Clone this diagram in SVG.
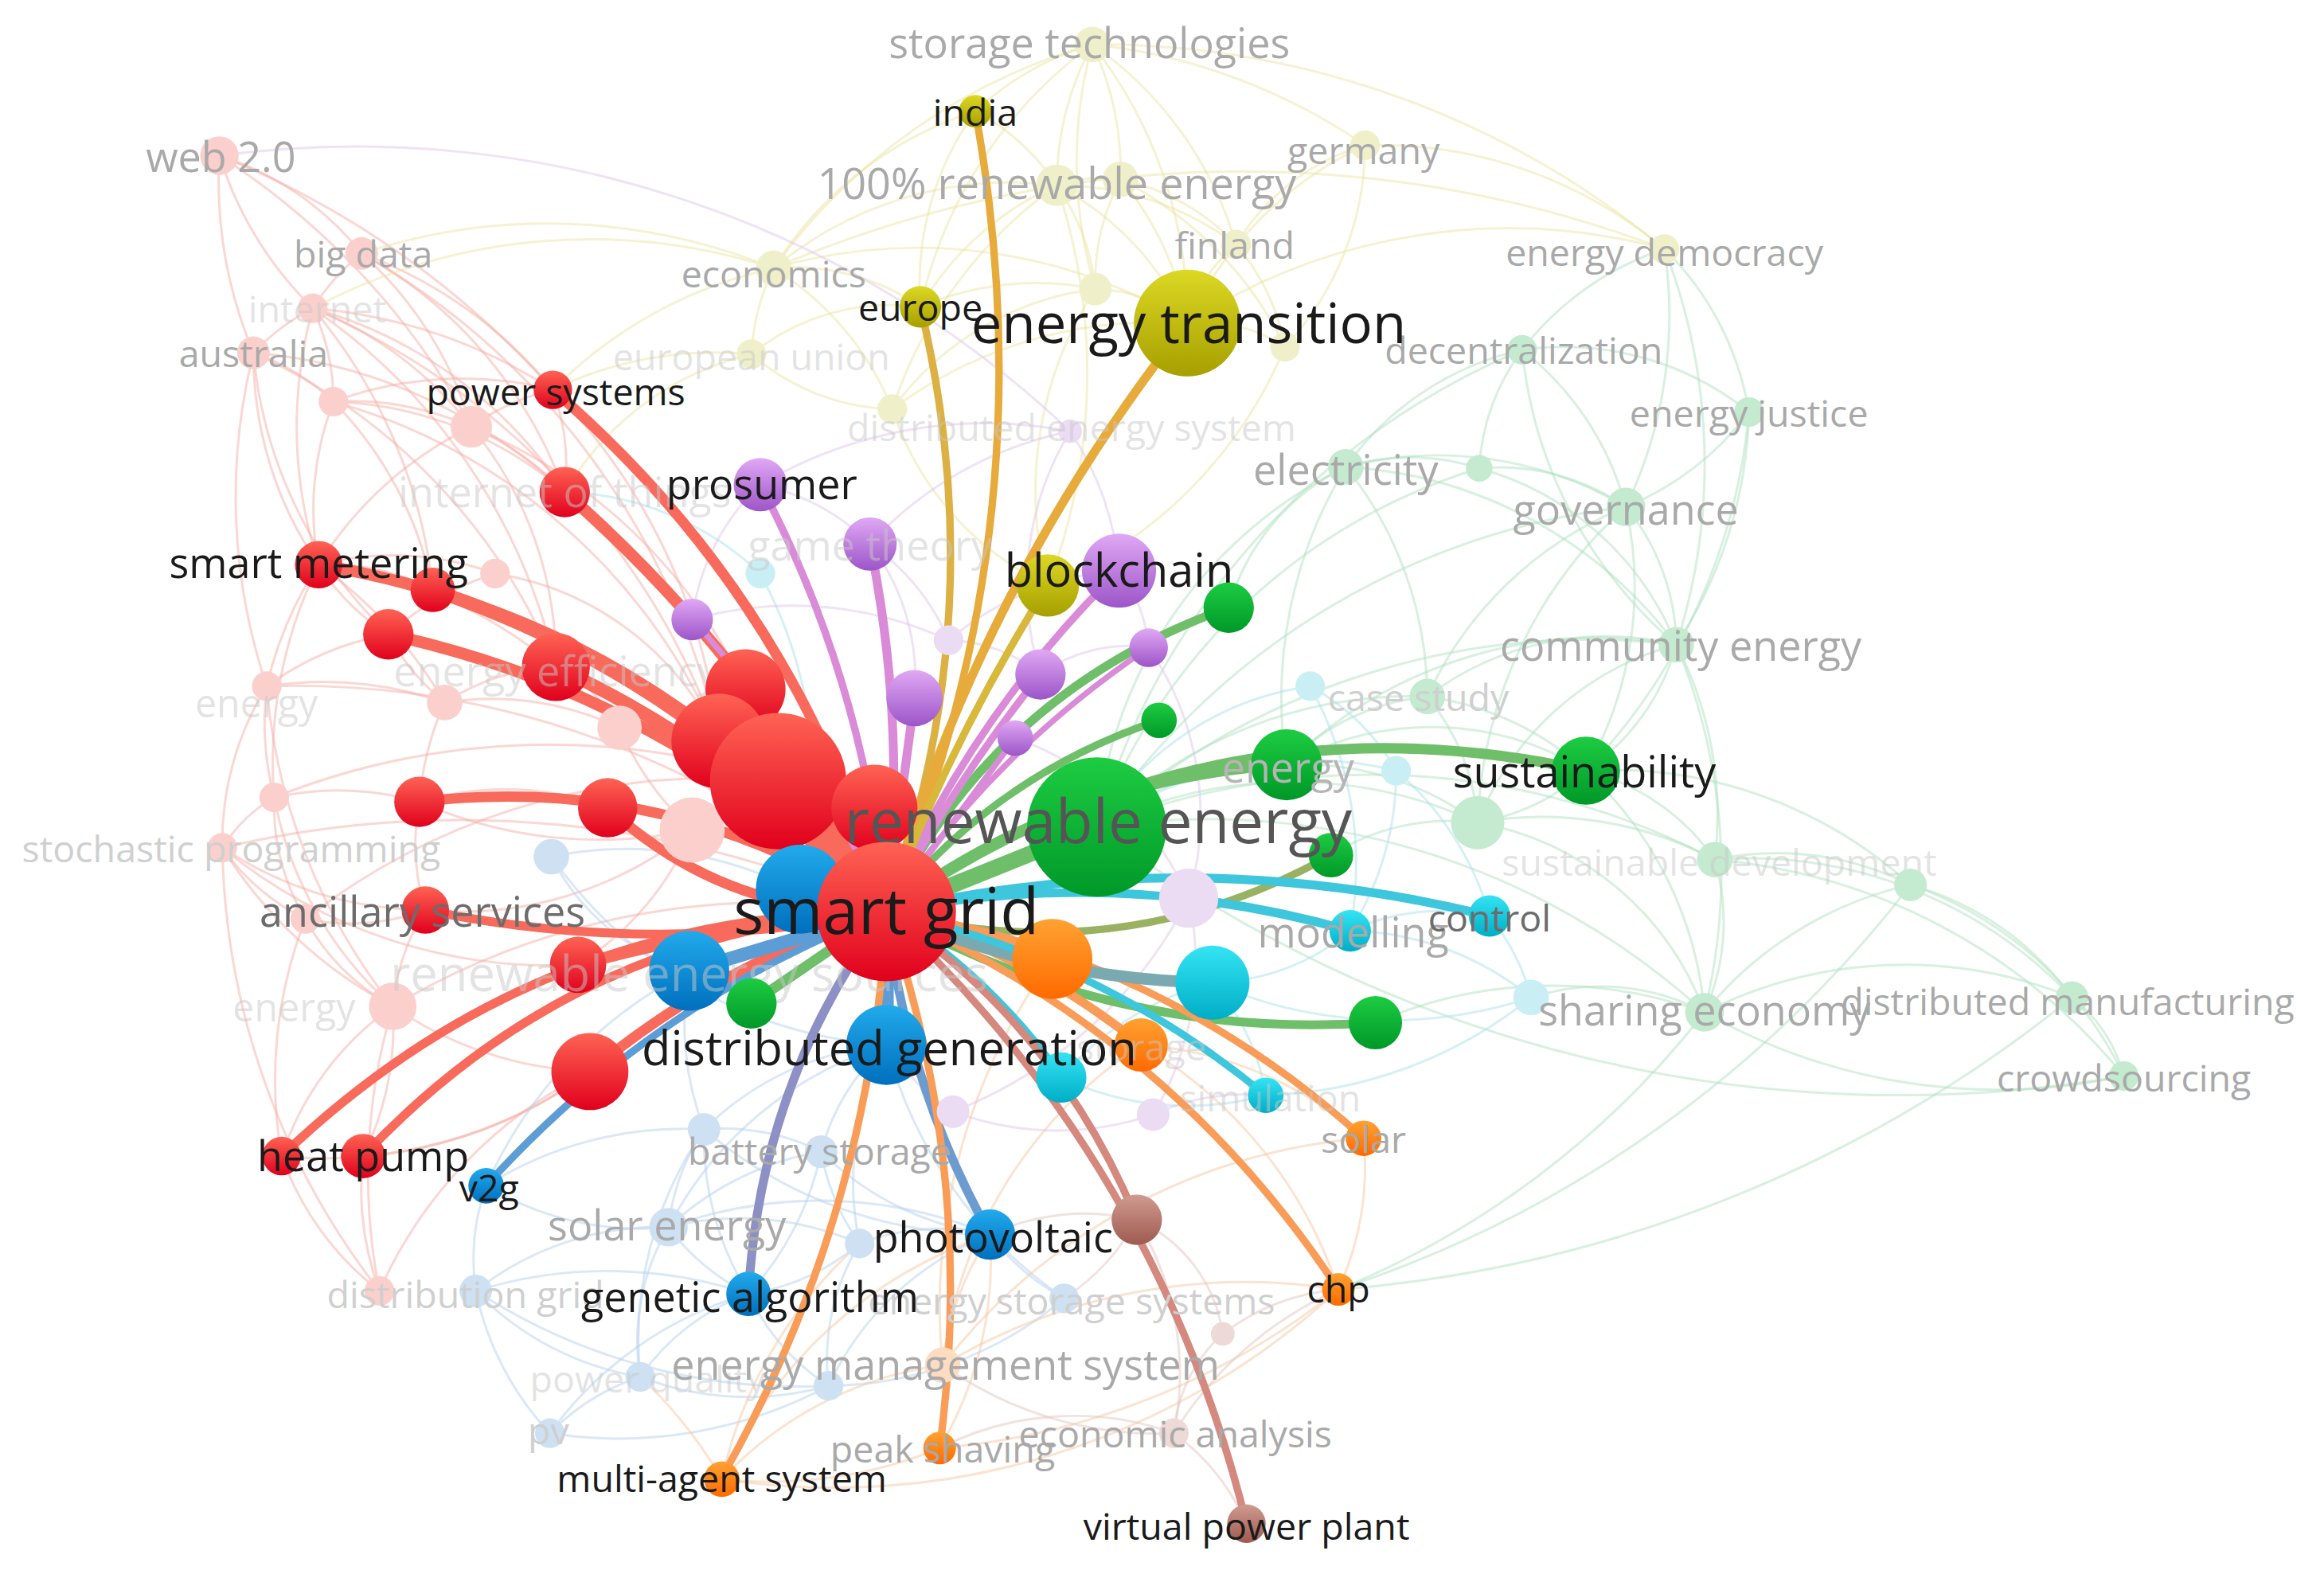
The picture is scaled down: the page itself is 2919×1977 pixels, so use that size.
<svg xmlns="http://www.w3.org/2000/svg" width="2919" height="1977" viewBox="0 0 2919 1977">
<defs>
<linearGradient id="gR" x1="0" y1="0" x2="0" y2="1"><stop offset="0" stop-color="#ff6354"/><stop offset="1" stop-color="#e0001c"/></linearGradient>
<linearGradient id="gB" x1="0" y1="0" x2="0" y2="1"><stop offset="0" stop-color="#22aaec"/><stop offset="1" stop-color="#006fbd"/></linearGradient>
<linearGradient id="gG" x1="0" y1="0" x2="0" y2="1"><stop offset="0" stop-color="#1dcc42"/><stop offset="1" stop-color="#009828"/></linearGradient>
<linearGradient id="gP" x1="0" y1="0" x2="0" y2="1"><stop offset="0" stop-color="#e0a8f4"/><stop offset="1" stop-color="#9c55c8"/></linearGradient>
<linearGradient id="gY" x1="0" y1="0" x2="0" y2="1"><stop offset="0" stop-color="#dcd824"/><stop offset="1" stop-color="#a69f00"/></linearGradient>
<linearGradient id="gO" x1="0" y1="0" x2="0" y2="1"><stop offset="0" stop-color="#ffa232"/><stop offset="1" stop-color="#ff6a00"/></linearGradient>
<linearGradient id="gC" x1="0" y1="0" x2="0" y2="1"><stop offset="0" stop-color="#34e4f4"/><stop offset="1" stop-color="#00adc6"/></linearGradient>
<linearGradient id="gN" x1="0" y1="0" x2="0" y2="1"><stop offset="0" stop-color="#d09a90"/><stop offset="1" stop-color="#9e5a50"/></linearGradient>
</defs>
<style>
text{font-family:"Open Sans","Noto Sans","Liberation Sans",sans-serif;text-anchor:middle;dominant-baseline:central}
.k{fill:#1a1a1a}.d{fill:#6c6c6c}.dd{fill:#555}.m{fill:#a9a9a9}.l{fill:#cfcfcf}.v{fill:#c8c8c8;fill-opacity:.5}
.fe path{fill:none;stroke-width:1.6;stroke-linecap:round}
.er{stroke:#f5b0a8;stroke-opacity:.5}.ey{stroke:#e9e29a;stroke-opacity:.45}.eg{stroke:#b0e1bf;stroke-opacity:.5}
.eb{stroke:#b6d2ee;stroke-opacity:.5}.eo{stroke:#f7c8a2;stroke-opacity:.5}.ec{stroke:#abe2eb;stroke-opacity:.5}
.ep{stroke:#dfc5ec;stroke-opacity:.5}.en{stroke:#e4c6c0;stroke-opacity:.5}
.be path{fill:none;stroke-linecap:round}
.br{stroke:#f86a5c}.bb{stroke:#5d9dd6}.bg{stroke:#6fbf6a}.bp{stroke:#d98bd8}.by{stroke:#e7ab3c}.bo{stroke:#f99c58}.bc{stroke:#3ec6dc}.bn{stroke:#d4887e}
.R{fill:url(#gR)}.B{fill:url(#gB)}.G{fill:url(#gG)}.P{fill:url(#gP)}.Y{fill:url(#gY)}.O{fill:url(#gO)}.C{fill:url(#gC)}.N{fill:url(#gN)}
.pr{fill:#fbd0cc}.py{fill:#eff0c9}.pg{fill:#c4eacf}.pb{fill:#cde1f3}.po{fill:#fddcc2}.pc{fill:#c9eff5}.pp{fill:#ebdbf3}.pn{fill:#eddad6}
</style>
<rect width="2919" height="1977" fill="#fff"/>
<g transform="scale(1.86161)">
<g id="connectors">
<g class="fe">
<g class="er">
<path d="M148 105 A200 200 0 0 1 244 171"/><path d="M148 105 A250 250 0 0 0 211 208"/><path d="M148 105 A300 300 0 0 0 171 238"/><path d="M148 105 A500 500 0 0 1 318 288"/><path d="M148 105 A600 600 0 0 1 373 263"/>
<path d="M244 171 A150 150 0 0 0 211 208"/><path d="M244 171 A250 250 0 0 1 318 288"/><path d="M244 171 A300 300 0 0 1 373 263"/><path d="M244 171 A300 300 0 0 1 381 332"/><path d="M244 171 A500 500 0 0 1 485 500"/>
<path d="M211 208 A150 150 0 0 0 171 238"/><path d="M211 208 A150 150 0 0 1 225 271"/><path d="M211 208 A250 250 0 0 1 318 288"/><path d="M211 208 A350 350 0 0 1 373 263"/><path d="M211 208 A300 300 0 0 1 381 332"/><path d="M211 208 A300 300 0 0 0 215 381"/><path d="M211 208 A400 400 0 0 1 375 450"/><path d="M211 208 A500 500 0 0 1 485 500"/><path d="M211 208 A350 350 0 0 1 292 398"/>
<path d="M171 238 A150 150 0 0 1 225 271"/><path d="M171 238 A250 250 0 0 0 215 381"/><path d="M171 238 A300 300 0 0 0 262 428"/><path d="M171 238 A400 400 0 0 1 375 450"/><path d="M171 238 A350 350 0 0 1 381 332"/><path d="M171 238 A400 400 0 0 0 180 463"/>
<path d="M225 271 A200 200 0 0 1 318 288"/><path d="M225 271 A250 250 0 0 1 373 263"/><path d="M225 271 A250 250 0 0 1 381 332"/><path d="M225 271 A200 200 0 0 0 215 381"/><path d="M225 271 A250 250 0 0 1 292 398"/><path d="M225 271 A400 400 0 0 1 485 500"/>
<path d="M318 288 A150 150 0 0 1 373 263"/><path d="M318 288 A200 200 0 0 1 381 332"/><path d="M318 288 A250 250 0 0 0 215 381"/><path d="M318 288 A250 250 0 0 1 375 450"/><path d="M318 288 A350 350 0 0 1 503 465"/>
<path d="M373 263 A150 150 0 0 1 381 332"/><path d="M373 263 A400 400 0 0 1 485 500"/>
<path d="M215 381 A150 150 0 0 1 292 398"/><path d="M215 381 A150 150 0 0 0 262 428"/><path d="M215 381 A250 250 0 0 0 180 463"/><path d="M215 381 A300 300 0 0 1 375 450"/><path d="M215 381 A300 300 0 0 1 300 474"/><path d="M215 381 A300 300 0 0 0 185 538"/><path d="M215 381 A200 200 0 0 1 334 387"/>
<path d="M180 463 A200 200 0 0 0 150 572"/><path d="M180 463 A200 200 0 0 1 262 428"/><path d="M180 463 A200 200 0 0 0 185 538"/><path d="M180 463 A250 250 0 0 1 300 474"/><path d="M180 463 A400 400 0 0 0 265 679"/>
<path d="M185 538 A100 100 0 0 0 150 572"/><path d="M185 538 A150 150 0 0 0 206 620"/><path d="M185 538 A200 200 0 0 1 283 541"/><path d="M185 538 A250 250 0 0 0 265 679"/>
<path d="M150 572 A150 150 0 0 0 206 620"/><path d="M150 572 A250 250 0 0 0 287 614"/><path d="M150 572 A350 350 0 0 0 390 651"/><path d="M150 572 A300 300 0 0 0 265 679"/><path d="M150 572 A500 500 0 0 0 256 871"/>
<path d="M206 620 A150 150 0 0 0 287 614"/><path d="M206 620 A150 150 0 0 0 265 679"/><path d="M206 620 A300 300 0 0 0 190 780"/>
<path d="M265 679 A200 200 0 0 0 190 780"/><path d="M265 679 A200 200 0 0 1 245 780"/><path d="M265 679 A250 250 0 0 0 398 723"/><path d="M265 679 A150 150 0 0 1 287 614"/><path d="M265 679 A400 400 0 0 0 256 871"/>
<path d="M256 871 A200 200 0 0 1 190 780"/><path d="M256 871 A300 300 0 0 1 398 723"/><path d="M256 871 A200 200 0 0 1 245 780"/>
<path d="M300 474 A200 200 0 0 0 283 541"/><path d="M300 474 A150 150 0 0 1 375 450"/><path d="M300 474 A200 200 0 0 1 418 491"/><path d="M300 474 A150 150 0 0 1 262 428"/>
<path d="M418 491 A150 150 0 0 1 485 500"/><path d="M418 491 A100 100 0 0 0 375 450"/><path d="M418 491 A200 200 0 0 0 467 560"/>
<path d="M467 560 A300 300 0 0 1 283 541"/><path d="M467 560 A150 150 0 0 0 410 545"/><path d="M467 560 A250 250 0 0 1 287 614"/><path d="M467 560 A200 200 0 0 1 390 651"/>
<path d="M283 541 A200 200 0 0 1 410 545"/><path d="M283 541 A150 150 0 0 0 287 614"/>
<path d="M398 723 A300 300 0 0 1 190 780"/><path d="M398 723 A300 300 0 0 1 245 780"/>
<path d="M150 572 A700 700 0 0 1 598 615"/><path d="M180 463 A600 600 0 0 1 598 615"/><path d="M185 538 A500 500 0 0 1 525 527"/><path d="M265 679 A500 500 0 0 1 598 615"/><path d="M206 620 A450 450 0 0 1 525 527"/>
<path d="M334 387 A200 200 0 0 1 485 500"/><path d="M334 387 A200 200 0 0 0 262 428"/>
</g>
<g class="ey">
<path d="M737 30 A200 200 0 0 0 658 75"/><path d="M737 30 A200 200 0 0 0 713 125"/><path d="M737 30 A200 200 0 0 1 756 121"/><path d="M737 30 A300 300 0 0 1 801 218"/><path d="M737 30 A300 300 0 0 0 739 195"/><path d="M737 30 A250 250 0 0 1 834 165"/><path d="M737 30 A300 300 0 0 0 621 207"/><path d="M737 30 A400 400 0 0 1 921 98"/><path d="M737 30 A400 400 0 0 0 522 181"/><path d="M737 30 A600 600 0 0 1 1123 168"/>
<path d="M658 75 A150 150 0 0 1 713 125"/><path d="M658 75 A200 200 0 0 0 621 207"/><path d="M658 75 A250 250 0 0 0 522 181"/>
<path d="M713 125 A100 100 0 0 1 756 121"/><path d="M713 125 A200 200 0 0 1 801 218"/><path d="M713 125 A200 200 0 0 0 621 207"/><path d="M713 125 A250 250 0 0 0 522 181"/><path d="M713 125 A150 150 0 0 1 739 195"/><path d="M713 125 A200 200 0 0 1 834 165"/><path d="M713 125 A300 300 0 0 0 602 276"/><path d="M713 125 A400 400 0 0 1 707 395"/>
<path d="M756 121 A200 200 0 0 1 801 218"/><path d="M756 121 A150 150 0 0 1 834 165"/><path d="M756 121 A150 150 0 0 0 739 195"/><path d="M756 121 A250 250 0 0 1 867 234"/>
<path d="M921 98 A250 250 0 0 0 801 218"/><path d="M921 98 A150 150 0 0 0 834 165"/><path d="M921 98 A200 200 0 0 1 867 234"/><path d="M921 98 A300 300 0 0 1 1123 168"/>
<path d="M834 165 A100 100 0 0 0 801 218"/><path d="M834 165 A150 150 0 0 1 867 234"/>
<path d="M739 195 A100 100 0 0 1 801 218"/><path d="M739 195 A200 200 0 0 0 621 207"/><path d="M739 195 A200 200 0 0 0 602 276"/><path d="M739 195 A250 250 0 0 0 707 395"/>
<path d="M867 234 A100 100 0 0 0 801 218"/><path d="M867 234 A300 300 0 0 1 707 395"/>
<path d="M522 181 A150 150 0 0 1 621 207"/><path d="M522 181 A150 150 0 0 0 507 239"/><path d="M522 181 A350 350 0 0 1 801 218"/><path d="M522 181 A200 200 0 0 1 602 276"/><path d="M522 181 A800 800 0 0 1 1123 168"/>
<path d="M507 239 A150 150 0 0 1 621 207"/><path d="M507 239 A150 150 0 0 0 602 276"/>
<path d="M602 276 A300 300 0 0 1 801 218"/><path d="M602 276 A200 200 0 0 0 707 395"/><path d="M1123 168 A400 400 0 0 0 801 218"/>
<path d="M522 181 A400 400 0 0 0 244 171"/><path d="M522 181 A400 400 0 0 0 211 208"/><path d="M522 181 A300 300 0 0 0 373 263"/><path d="M507 239 A250 250 0 0 0 373 263"/><path d="M507 239 A200 200 0 0 0 381 332"/>
</g>
<g class="eg">
<path d="M1027 236 A200 200 0 0 1 1180 278"/><path d="M1027 236 A200 200 0 0 1 1097 342"/><path d="M1027 236 A200 200 0 0 0 908 315"/><path d="M1027 236 A300 300 0 0 0 1131 435"/><path d="M1027 236 A150 150 0 0 0 998 316"/><path d="M1027 236 A500 500 0 0 0 740 558"/>
<path d="M1180 278 A200 200 0 0 1 1097 342"/><path d="M1180 278 A300 300 0 0 1 1131 435"/><path d="M1180 278 A200 200 0 0 0 1123 168"/><path d="M1180 278 A400 400 0 0 1 1070 520"/>
<path d="M1123 168 A200 200 0 0 0 1027 236"/><path d="M1123 168 A300 300 0 0 1 1097 342"/><path d="M1123 168 A400 400 0 0 1 1131 435"/>
<path d="M1097 342 A150 150 0 0 1 1131 435"/><path d="M1097 342 A250 250 0 0 0 908 315"/><path d="M1097 342 A150 150 0 0 0 998 316"/><path d="M1097 342 A500 500 0 0 0 740 558"/><path d="M1097 342 A300 300 0 0 0 997 555"/><path d="M1097 342 A250 250 0 0 1 1070 520"/><path d="M1097 342 A250 250 0 0 0 963 470"/>
<path d="M908 315 A150 150 0 0 1 998 316"/><path d="M908 315 A300 300 0 0 0 740 558"/><path d="M908 315 A300 300 0 0 1 1131 435"/><path d="M908 315 A300 300 0 0 0 868 516"/><path d="M908 315 A250 250 0 0 1 963 470"/><path d="M908 315 A150 150 0 0 0 829 410"/>
<path d="M998 316 A200 200 0 0 1 1131 435"/><path d="M998 316 A400 400 0 0 0 740 558"/>
<path d="M1131 435 A500 500 0 0 0 740 558"/><path d="M1131 435 A150 150 0 0 1 1070 520"/><path d="M1131 435 A200 200 0 0 0 997 555"/><path d="M1131 435 A200 200 0 0 0 963 470"/><path d="M1131 435 A250 250 0 0 1 1157 580"/><path d="M1131 435 A300 300 0 0 0 868 516"/><path d="M1131 435 A400 400 0 0 1 1150 683"/>
<path d="M963 470 A300 300 0 0 0 740 558"/><path d="M963 470 A150 150 0 0 1 997 555"/><path d="M963 470 A200 200 0 0 1 1070 520"/><path d="M963 470 A150 150 0 0 0 868 516"/>
<path d="M997 555 A300 300 0 0 0 740 558"/><path d="M997 555 A250 250 0 0 1 1157 580"/><path d="M997 555 A150 150 0 0 0 1070 520"/><path d="M997 555 A200 200 0 0 1 1150 683"/><path d="M997 555 A150 150 0 0 0 898 577"/>
<path d="M1070 520 A150 150 0 0 1 1157 580"/><path d="M1070 520 A300 300 0 0 1 1289 597"/><path d="M1070 520 A250 250 0 0 1 1150 683"/>
<path d="M1157 580 A200 200 0 0 1 1289 597"/><path d="M1157 580 A150 150 0 0 1 1150 683"/><path d="M1157 580 A500 500 0 0 0 740 558"/><path d="M1157 580 A300 300 0 0 1 1398 673"/><path d="M1157 580 A400 400 0 0 1 1433 726"/>
<path d="M1289 597 A200 200 0 0 1 1398 673"/><path d="M1289 597 A250 250 0 0 1 1433 726"/><path d="M1289 597 A250 250 0 0 0 1150 683"/>
<path d="M1150 683 A300 300 0 0 1 1398 673"/><path d="M1150 683 A400 400 0 0 0 1433 726"/><path d="M1150 683 A500 500 0 0 0 740 558"/><path d="M1150 683 A300 300 0 0 0 928 690"/>
<path d="M1398 673 A100 100 0 0 1 1433 726"/><path d="M868 516 A200 200 0 0 0 740 558"/><path d="M868 516 A200 200 0 0 1 997 555"/><path d="M868 516 A200 200 0 0 1 1070 520"/>
<path d="M740 558 A900 900 0 0 0 1433 726"/><path d="M1150 683 A600 600 0 0 1 903 870"/><path d="M1398 673 A900 900 0 0 1 903 870"/><path d="M1289 597 A800 800 0 0 1 903 870"/><path d="M1033 673 A150 150 0 0 1 1150 683"/>
</g>
<g class="eb">
<path d="M451 828 A200 200 0 0 0 321 871"/><path d="M451 828 A150 150 0 0 1 475 762"/><path d="M451 828 A150 150 0 0 0 505 873"/><path d="M451 828 A150 150 0 0 0 432 929"/><path d="M451 828 A250 250 0 0 1 598 705"/><path d="M451 828 A200 200 0 0 1 328 800"/><path d="M451 828 A200 200 0 0 1 554 777"/><path d="M451 828 A300 300 0 0 1 668 833"/><path d="M451 828 A200 200 0 0 1 580 839"/>
<path d="M321 871 A200 200 0 0 0 371 967"/><path d="M321 871 A200 200 0 0 0 432 929"/><path d="M321 871 A150 150 0 0 1 328 800"/><path d="M321 871 A300 300 0 0 1 505 873"/><path d="M321 871 A400 400 0 0 0 559 935"/>
<path d="M371 967 A150 150 0 0 1 432 929"/><path d="M371 967 A300 300 0 0 0 559 935"/><path d="M371 967 A250 250 0 0 1 505 873"/>
<path d="M432 929 A200 200 0 0 0 559 935"/><path d="M432 929 A150 150 0 0 1 505 873"/><path d="M432 929 A250 250 0 0 1 475 762"/>
<path d="M475 762 A150 150 0 0 1 554 777"/><path d="M475 762 A200 200 0 0 1 598 705"/><path d="M475 762 A300 300 0 0 0 668 833"/><path d="M475 762 A200 200 0 0 1 465 655"/><path d="M475 762 A200 200 0 0 0 505 873"/>
<path d="M554 777 A200 200 0 0 0 668 833"/><path d="M554 777 A150 150 0 0 1 598 705"/><path d="M554 777 A200 200 0 0 1 505 873"/><path d="M554 777 A150 150 0 0 0 580 839"/>
<path d="M580 839 A150 150 0 0 1 668 833"/><path d="M580 839 A150 150 0 0 1 505 873"/><path d="M580 839 A150 150 0 0 0 559 935"/><path d="M580 839 A200 200 0 0 1 598 705"/>
<path d="M559 935 A200 200 0 0 1 668 833"/><path d="M559 935 A250 250 0 0 0 718 876"/><path d="M559 935 A150 150 0 0 1 505 873"/>
<path d="M718 876 A150 150 0 0 1 668 833"/><path d="M718 876 A300 300 0 0 1 598 705"/>
<path d="M372 578 A150 150 0 0 0 465 655"/><path d="M372 578 A250 250 0 0 1 540 602"/><path d="M372 578 A300 300 0 0 0 598 705"/>
<path d="M328 800 A300 300 0 0 1 465 655"/><path d="M328 800 A250 250 0 0 1 475 762"/>
</g>
<g class="eo">
<path d="M636 921 A150 150 0 0 1 634 977"/><path d="M636 921 A250 250 0 0 0 487 998"/><path d="M636 921 A400 400 0 0 1 903 870"/><path d="M636 921 A200 200 0 0 1 668 833"/><path d="M636 921 A400 400 0 0 1 710 647"/><path d="M636 921 A300 300 0 0 1 770 705"/><path d="M636 921 A400 400 0 0 1 920 768"/>
<path d="M903 870 A200 200 0 0 0 920 768"/><path d="M903 870 A300 300 0 0 0 770 705"/><path d="M634 977 A300 300 0 0 1 487 998"/><path d="M487 998 A300 300 0 0 1 668 833"/><path d="M487 998 A300 300 0 0 0 432 929"/>
<path d="M634 977 A250 250 0 0 0 668 833"/><path d="M903 870 A500 500 0 0 1 634 977"/><path d="M487 998 A300 300 0 0 1 580 839"/><path d="M920 768 A250 250 0 0 0 770 705"/><path d="M487 998 A500 500 0 0 0 903 870"/>
</g>
<g class="ec">
<path d="M884 463 A150 150 0 0 1 942 520"/><path d="M884 463 A250 250 0 0 1 911 628"/><path d="M942 520 A200 200 0 0 1 911 628"/><path d="M942 520 A200 200 0 0 1 1005 618"/><path d="M1033 673 A150 150 0 0 0 1005 618"/><path d="M1033 673 A200 200 0 0 0 911 628"/><path d="M1033 673 A300 300 0 0 1 818 663"/>
<path d="M911 628 A150 150 0 0 1 1005 618"/><path d="M911 628 A150 150 0 0 1 818 663"/><path d="M818 663 A150 150 0 0 1 854 739"/><path d="M818 663 A200 200 0 0 0 716 727"/><path d="M716 727 A200 200 0 0 0 854 739"/><path d="M854 739 A300 300 0 0 0 1033 673"/>
<path d="M513 387 A300 300 0 0 1 540 602"/><path d="M884 463 A200 200 0 0 0 740 558"/><path d="M942 520 A250 250 0 0 0 740 558"/><path d="M513 387 A200 200 0 0 0 381 332"/>
</g>
<g class="ep">
<path d="M148 105 A700 700 0 0 1 722 291"/>
<path d="M722 291 A300 300 0 0 0 513 327"/><path d="M722 291 A250 250 0 0 0 587 367"/><path d="M722 291 A200 200 0 0 1 755 385"/><path d="M722 291 A200 200 0 0 0 702 455"/>
<path d="M640 432 A150 150 0 0 0 587 367"/><path d="M640 432 A200 200 0 0 1 755 385"/><path d="M640 432 A100 100 0 0 1 702 455"/><path d="M640 432 A250 250 0 0 0 467 418"/>
<path d="M802 606 A200 200 0 0 0 685 498"/><path d="M802 606 A200 200 0 0 0 775 437"/><path d="M802 606 A200 200 0 0 1 778 752"/><path d="M643 750 A200 200 0 0 0 778 752"/><path d="M643 750 A300 300 0 0 0 802 606"/><path d="M643 750 A150 150 0 0 1 598 705"/><path d="M778 752 A150 150 0 0 1 854 739"/>
<path d="M513 327 A150 150 0 0 0 467 418"/><path d="M513 327 A150 150 0 0 1 587 367"/><path d="M587 367 A150 150 0 0 1 617 471"/><path d="M702 455 A100 100 0 0 1 775 437"/><path d="M755 385 A100 100 0 0 1 775 437"/>
</g>
<g class="en">
<path d="M792 967 A150 150 0 0 1 841 1028"/><path d="M792 967 A200 200 0 0 0 767 823"/><path d="M792 967 A250 250 0 0 1 903 870"/><path d="M792 967 A200 200 0 0 0 634 977"/><path d="M792 967 A100 100 0 0 1 825 900"/>
<path d="M825 900 A100 100 0 0 0 767 823"/><path d="M825 900 A150 150 0 0 1 903 870"/><path d="M792 967 A250 250 0 0 1 636 921"/><path d="M767 823 A150 150 0 0 0 668 833"/><path d="M767 823 A150 150 0 0 1 718 876"/>
</g>
</g>
<g class="be">
<path class="br" stroke-width="7" d="M598 615 Q538 405 373 263"/>
<path class="br" stroke-width="8" d="M598 615 Q518 452 381 332"/>
<path class="br" stroke-width="8" d="M598 615 Q453 421 215 381"/>
<path class="br" stroke-width="9" d="M598 615 Q478 461 292 398"/>
<path class="br" stroke-width="8" d="M598 615 Q458 471 262 428"/>
<path class="br" stroke-width="9" d="M598 615 Q503 510 375 450"/>
<path class="br" stroke-width="9" d="M598 615 L503 465"/>
<path class="br" stroke-width="9" d="M598 615 L485 500"/>
<path class="br" stroke-width="10" d="M598 615 L525 527"/>
<path class="br" stroke-width="9" d="M598 615 L590 545"/>
<path class="br" stroke-width="7" d="M598 615 Q454 521 283 541"/>
<path class="br" stroke-width="7" d="M598 615 Q490 618 410 545"/>
<path class="br" stroke-width="6" d="M598 615 Q442 646 287 614"/>
<path class="br" stroke-width="8" d="M598 615 Q492 623 390 651"/>
<path class="br" stroke-width="7" d="M598 615 Q487 649 398 723"/>
<path class="br" stroke-width="6" d="M598 615 Q361 616 190 780"/>
<path class="br" stroke-width="6" d="M598 615 Q389 627 245 780"/>
<path class="bb" stroke-width="9" d="M598 615 L540 602"/>
<path class="bb" stroke-width="9" d="M598 615 L465 655"/>
<path class="bb" stroke-width="10" d="M598 615 L598 705"/>
<path class="bb" stroke-width="5" d="M598 615 Q441 675 328 800"/>
<path stroke="#8d90c4" stroke-width="6" d="M598 615 Q513 730 505 873"/>
<path stroke="#6c9bd0" stroke-width="6" d="M598 615 Q611 731 668 833"/>
<path class="bg" stroke-width="11" d="M598 615 L740 558"/>
<path class="bg" stroke-width="7" d="M598 615 L507 677"/>
<path class="bg" stroke-width="6" d="M598 615 Q672 466 829 410"/>
<path class="bg" stroke-width="5" d="M598 615 Q671 523 782 486"/>
<path class="bg" stroke-width="7" d="M598 615 Q718 525 868 516"/>
<path class="bg" stroke-width="7" d="M598 615 Q813 464 1070 520"/>
<path stroke="#99b262" stroke-width="5" d="M598 615 Q756 656 898 577"/>
<path class="bg" stroke-width="6" d="M598 615 Q752 702 928 690"/>
<path class="bp" stroke-width="5" d="M598 615 Q584 462 513 327"/>
<path class="bp" stroke-width="6" d="M598 615 Q612 490 587 367"/>
<path class="bp" stroke-width="4" d="M598 615 Q548 506 467 418"/>
<path class="bp" stroke-width="6" d="M598 615 L617 471"/>
<path class="bp" stroke-width="5" d="M598 615 Q654 484 755 385"/>
<path class="bp" stroke-width="5" d="M598 615 Q642 530 702 455"/>
<path class="bp" stroke-width="4" d="M598 615 Q669 508 775 437"/>
<path class="bp" stroke-width="4" d="M598 615 L685 498"/>
<path class="by" stroke-width="5" d="M598 615 Q709 354 658 75"/>
<path stroke="#dcb042" stroke-width="5" d="M598 615 Q671 414 621 207"/>
<path class="by" stroke-width="6" d="M598 615 Q660 396 801 218"/>
<path stroke="#d8b83a" stroke-width="5" d="M598 615 Q641 500 707 395"/>
<path class="bo" stroke-width="9" d="M598 615 L710 647"/>
<path class="bo" stroke-width="6" d="M598 615 Q693 643 770 705"/>
<path class="bo" stroke-width="5" d="M598 615 Q782 643 920 768"/>
<path class="bo" stroke-width="5" d="M598 615 Q789 697 903 870"/>
<path class="bo" stroke-width="5" d="M598 615 Q659 792 634 977"/>
<path class="bo" stroke-width="5" d="M598 615 Q588 819 487 997"/>
<path stroke="#7aaab0" stroke-width="8" d="M598 615 Q703 661 818 663"/>
<path class="bc" stroke-width="6" d="M598 615 Q756 584 911 628"/>
<path class="bc" stroke-width="6" d="M598 615 Q802 568 1005 618"/>
<path class="bc" stroke-width="6" d="M598 615 Q668 659 716 727"/>
<path class="bc" stroke-width="5" d="M598 615 Q741 646 854 739"/>
<path class="bn" stroke-width="5" d="M598 615 Q714 694 767 823"/>
<path class="bn" stroke-width="5" d="M598 615 Q781 785 841 1028"/>
</g>
</g>
<g id="nodes">
<g id="n-web-2-0"><circle class="pr" cx="148" cy="105" r="13"/><text class="m" x="149" y="105" font-size="28">web 2.0</text></g>
<g id="n-big-data"><circle class="pr" cx="244" cy="171" r="11"/><text class="m" x="245" y="171" font-size="25">big data</text></g>
<g id="n-internet"><circle class="pr" cx="211" cy="208" r="10"/><text class="v" x="214" y="208" font-size="25">internet</text></g>
<g id="n-australia"><circle class="pr" cx="171" cy="238" r="11"/><text class="m" x="171" y="238" font-size="25">australia</text></g>
<g id="n-pr1"><circle class="pr" cx="225" cy="271" r="10"/></g>
<g id="n-pr2"><circle class="pr" cx="318" cy="288" r="14"/></g>
<g id="n-pr3"><circle class="pr" cx="334" cy="387" r="10"/></g>
<g id="n-energy-a"><circle class="pr" cx="180" cy="463" r="10"/><text class="v" x="173" y="474" font-size="26">energy</text></g>
<g id="n-pr4"><circle class="pr" cx="300" cy="474" r="12"/></g>
<g id="n-pr5"><circle class="pr" cx="418" cy="491" r="15"/></g>
<g id="n-pr6"><circle class="pr" cx="185" cy="538" r="10"/></g>
<g id="n-stochastic-programming"><circle class="pr" cx="150" cy="572" r="10"/><text class="l" x="156" y="572" font-size="25">stochastic programming</text></g>
<g id="n-pr7"><circle class="pr" cx="206" cy="620" r="10"/></g>
<g id="n-energy-b"><circle class="pr" cx="265" cy="679" r="16"/><text class="v" x="157" y="679" font-size="26" style="text-anchor:start">energy</text></g>
<g id="n-pr8"><circle class="pr" cx="256" cy="871" r="10"/></g>
<g id="n-pr9"><circle class="pr" cx="467" cy="560" r="22"/></g>
<g id="n-storage-technologies"><circle class="py" cx="737" cy="30" r="12"/><text class="m" x="735" y="28" font-size="28">storage technologies</text></g>
<g id="n-100-renewable-energy"><circle class="py" cx="713" cy="125" r="14"/><circle class="py" cx="756" cy="121" r="12"/><text class="m" x="713" y="123" font-size="29">100% renewable energy</text></g>
<g id="n-germany"><circle class="py" cx="921" cy="98" r="10"/><text class="m" x="920" y="101" font-size="25">germany</text></g>
<g id="n-finland"><circle class="py" cx="834" cy="165" r="10"/><text class="m" x="833" y="165" font-size="25">finland</text></g>
<g id="n-py1"><circle class="py" cx="739" cy="195" r="11"/></g>
<g id="n-py2"><circle class="py" cx="867" cy="234" r="10"/></g>
<g id="n-economics"><circle class="py" cx="522" cy="181" r="12"/><text class="m" x="522" y="184" font-size="25">economics</text></g>
<g id="n-european-union"><circle class="py" cx="507" cy="239" r="10"/><text class="v" x="507" y="240" font-size="25">european union</text></g>
<g id="n-py3"><circle class="py" cx="602" cy="276" r="10"/></g>
<g id="n-energy-democracy"><circle class="py" cx="1123" cy="168" r="10"/><text class="m" x="1123" y="170" font-size="25">energy democracy</text></g>
<g id="n-distributed-energy-system"><circle class="pp" cx="722" cy="291" r="8"/><text class="v" x="723" y="288" font-size="25">distributed energy system</text></g>
<g id="n-pp1"><circle class="pp" cx="640" cy="432" r="10"/></g>
<g id="n-pp2"><circle class="pp" cx="802" cy="606" r="20"/></g>
<g id="n-pp3"><circle class="pp" cx="643" cy="750" r="11"/></g>
<g id="n-pp4"><circle class="pp" cx="778" cy="752" r="11"/></g>
<g id="n-electricity"><circle class="pg" cx="908" cy="315" r="12"/><text class="m" x="908" y="316" font-size="28">electricity</text></g>
<g id="n-pg1"><circle class="pg" cx="998" cy="316" r="9"/></g>
<g id="n-decentralization"><circle class="pg" cx="1027" cy="236" r="10"/><text class="m" x="1028" y="236" font-size="25">decentralization</text></g>
<g id="n-energy-justice"><circle class="pg" cx="1180" cy="278" r="10"/><text class="m" x="1180" y="278" font-size="25">energy justice</text></g>
<g id="n-governance"><circle class="pg" cx="1097" cy="342" r="13"/><text class="m" x="1097" y="343" font-size="28">governance</text></g>
<g id="n-community-energy"><circle class="pg" cx="1131" cy="435" r="12"/><text class="m" x="1134" y="435" font-size="28">community energy</text></g>
<g id="n-case-study"><circle class="pc" cx="884" cy="463" r="10"/><circle class="pg" cx="963" cy="470" r="12"/><text class="l" x="957" y="470" font-size="25">case study</text></g>
<g id="n-pc1"><circle class="pc" cx="942" cy="520" r="10"/></g>
<g id="n-pc2"><circle class="pc" cx="513" cy="387" r="10"/></g>
<g id="n-pc3"><circle class="pc" cx="1033" cy="673" r="12"/></g>
<g id="n-pg2"><circle class="pg" cx="997" cy="555" r="18"/></g>
<g id="n-sustainable-development"><circle class="pg" cx="1157" cy="580" r="12"/><text class="v" x="1160" y="581" font-size="25">sustainable development</text></g>
<g id="n-pg3"><circle class="pg" cx="1289" cy="597" r="11"/></g>
<g id="n-sharing-economy"><circle class="pg" cx="1150" cy="683" r="13"/><text class="m" x="1150" y="681" font-size="28">sharing economy</text></g>
<g id="n-distributed-manufacturing"><circle class="pg" cx="1398" cy="673" r="11"/><text class="m" x="1395" y="675" font-size="25">distributed manufacturing</text></g>
<g id="n-crowdsourcing"><circle class="pg" cx="1433" cy="726" r="10"/><text class="m" x="1433" y="727" font-size="25">crowdsourcing</text></g>
<g id="n-pb1"><circle class="pb" cx="372" cy="578" r="12"/></g>
<g id="n-battery-storage"><circle class="pb" cx="475" cy="762" r="11"/><circle class="pb" cx="554" cy="777" r="11"/><text class="m" x="553" y="776" font-size="25">battery storage</text></g>
<g id="n-solar-energy"><circle class="pb" cx="451" cy="828" r="13"/><text class="m" x="450" y="826" font-size="28">solar energy</text></g>
<g id="n-distribution-grid"><circle class="pb" cx="321" cy="871" r="11"/><text class="l" x="314" y="873" font-size="25">distribution grid</text></g>
<g id="n-pb2"><circle class="pb" cx="580" cy="839" r="10"/></g>
<g id="n-power-quality"><circle class="pb" cx="432" cy="929" r="10"/><text class="v" x="437" y="930" font-size="25">power quality</text></g>
<g id="n-pv"><circle class="pb" cx="371" cy="967" r="10"/><text class="l" x="370" y="965" font-size="25">pv</text></g>
<g id="n-pb3"><circle class="pb" cx="559" cy="935" r="10"/></g>
<g id="n-energy-storage-systems"><circle class="pb" cx="718" cy="876" r="10"/><text class="l" x="723" y="877" font-size="25">energy storage systems</text></g>
<g id="n-energy-management-system"><circle class="po" cx="636" cy="921" r="12"/><text class="m" x="638" y="920" font-size="28">energy management system</text></g>
<g id="n-pn1"><circle class="pn" cx="825" cy="900" r="8"/></g>
<g id="n-economic-analysis"><circle class="pn" cx="792" cy="967" r="10"/><text class="m" x="793" y="967" font-size="25">economic analysis</text></g>

<g id="n-power-systems"><circle class="R" cx="373" cy="263" r="13"/><text class="k" x="375" y="264" font-size="25">power systems</text></g>
<g id="n-internet-of-things"><circle class="R" cx="381" cy="332" r="17"/><text class="v" x="381" y="331" font-size="28">internet of things</text></g>
<g id="n-r2"><circle class="R" cx="292" cy="398" r="15"/></g>
<g id="n-smart-metering"><circle class="R" cx="215" cy="381" r="16"/><text class="k" x="215" y="379" font-size="28">smart metering</text></g>
<g id="n-r3"><circle class="R" cx="262" cy="428" r="17"/></g>
<g id="n-energy-efficiency"><circle class="R" cx="375" cy="450" r="23"/><text class="v" x="375" y="452" font-size="28">energy efficiency</text></g>
<g id="n-r11"><circle class="R" cx="283" cy="541" r="17"/></g>
<g id="n-r12"><circle class="R" cx="410" cy="545" r="20"/></g>
<g id="n-ancillary-services"><circle class="R" cx="287" cy="614" r="16"/><text class="d" x="285" y="614" font-size="28">ancillary services</text></g>
<g id="n-r14"><circle class="R" cx="390" cy="651" r="19"/></g>
<g id="n-r15"><circle class="R" cx="398" cy="723" r="26"/></g>
<g id="n-hp1"><circle class="R" cx="190" cy="780" r="13"/></g>
<g id="n-heat-pump"><circle class="R" cx="245" cy="780" r="15"/><text class="k" x="245" y="779" font-size="28">heat pump</text></g>
<g id="n-c3"><circle class="R" cx="503" cy="465" r="27"/></g>
<g id="n-c1"><circle class="R" cx="485" cy="500" r="32"/></g>
<g id="n-c2"><circle class="R" cx="525" cy="527" r="46"/></g>
<g id="n-c4"><circle class="R" cx="590" cy="545" r="29"/></g>
<g id="n-p3"><circle class="P" cx="467" cy="418" r="14"/></g>
<g id="n-game-theory"><circle class="P" cx="587" cy="367" r="18"/><text class="v" x="587" y="367" font-size="28">game theory</text></g>
<g id="n-prosumer"><circle class="P" cx="513" cy="327" r="18"/><text class="k" x="514" y="326" font-size="28">prosumer</text></g>
<g id="n-p4"><circle class="P" cx="617" cy="471" r="19"/></g>
<g id="n-p5"><circle class="P" cx="702" cy="455" r="17"/></g>
<g id="n-p6"><circle class="P" cx="775" cy="437" r="13"/></g>
<g id="n-p7"><circle class="P" cx="685" cy="498" r="12"/></g>
<g id="n-y-blockchain"><circle class="Y" cx="707" cy="395" r="21"/></g>
<g id="n-blockchain"><circle class="P" cx="755" cy="385" r="25"/><text class="k" x="755" y="384" font-size="31">blockchain</text></g>
<g id="n-india"><circle class="Y" cx="658" cy="75" r="11"/><text class="k" x="658" y="75" font-size="25">india</text></g>
<g id="n-energy-transition"><circle class="Y" cx="801" cy="218" r="36"/><text class="k" x="802" y="217" font-size="37">energy transition</text></g>
<g id="n-europe"><circle class="Y" cx="621" cy="207" r="14"/><text class="k" x="621" y="207" font-size="25">europe</text></g>
<g id="n-g7"><circle class="G" cx="829" cy="410" r="17"/></g>
<g id="n-g8"><circle class="G" cx="782" cy="486" r="12"/></g>
<g id="n-energy"><circle class="G" cx="868" cy="516" r="24"/><text fill="#b5b5b5" x="869" y="517" font-size="28">energy</text></g>
<g id="n-sustainability"><circle class="G" cx="1070" cy="520" r="23"/><text class="k" x="1069" y="520" font-size="29">sustainability</text></g>
<g id="n-g5"><circle class="G" cx="898" cy="577" r="15"/></g>
<g id="n-g6"><circle class="G" cx="928" cy="690" r="18"/></g>
<g id="n-v2g"><circle class="B" cx="328" cy="800" r="12"/><text class="k" x="330" y="801" font-size="25">v2g</text></g>
<g id="n-genetic-algorithm"><circle class="B" cx="505" cy="873" r="15"/><text class="k" x="506" y="874" font-size="28">genetic algorithm</text></g>
<g id="n-photovoltaic"><circle class="B" cx="668" cy="833" r="17"/><text class="k" x="670" y="834" font-size="28">photovoltaic</text></g>
<g id="n-b6"><circle class="B" cx="540" cy="600" r="30"/></g>
<g id="n-renewable-energy-sources"><circle class="B" cx="465" cy="655" r="27"/><text class="v" x="465" y="656" font-size="33">renewable energy sources</text></g>
<g id="n-g9"><circle class="G" cx="507" cy="677" r="17"/></g>
<g id="n-o1"><circle class="O" cx="710" cy="647" r="27"/></g>
<g id="n-storage"><circle class="O" cx="770" cy="705" r="18"/><text class="v" x="770" y="706" font-size="25">storage</text></g>
<g id="n-solar"><circle class="O" cx="920" cy="768" r="12"/><text class="m" x="920" y="768" font-size="25">solar</text></g>
<g id="n-chp"><circle class="O" cx="903" cy="870" r="11"/><text class="k" x="903" y="869" font-size="25">chp</text></g>
<g id="n-peak-shaving"><circle class="O" cx="634" cy="977" r="11"/><text class="m" x="636" y="977" font-size="25">peak shaving</text></g>
<g id="n-multi-agent-system"><circle class="O" cx="487" cy="998" r="12"/><text class="k" x="487" y="997" font-size="25">multi-agent system</text></g>
<g id="n-cy1"><circle class="C" cx="818" cy="663" r="25"/></g>
<g id="n-modelling"><circle class="C" cx="911" cy="628" r="14"/><text class="m" x="913" y="628" font-size="28">modelling</text></g>
<g id="n-control"><circle class="C" cx="1005" cy="618" r="14"/><text class="d" x="1005" y="619" font-size="25">control</text></g>
<g id="n-cy2"><circle class="C" cx="716" cy="727" r="17"/></g>
<g id="n-simulation"><circle class="C" cx="854" cy="739" r="12"/><text class="v" x="857" y="740" font-size="25">simulation</text></g>
<g id="n-br1"><circle class="N" cx="767" cy="823" r="17"/></g>
<g id="n-virtual-power-plant"><circle class="N" cx="841" cy="1028" r="13"/><text class="k" x="841" y="1029" font-size="25">virtual power plant</text></g>
<g id="n-renewable-energy"><circle class="G" cx="740" cy="558" r="47"/><text class="dd" x="741" y="553" font-size="41">renewable energy</text></g>
<g id="n-smart-grid"><circle class="R" cx="598" cy="615" r="47"/><text class="k" x="598" y="613" font-size="43">smart grid</text></g>
<g id="n-distributed-generation"><circle class="B" cx="598" cy="705" r="27"/><text class="k" x="600" y="706" font-size="32">distributed generation</text></g>
</g>
</g>
</svg>
